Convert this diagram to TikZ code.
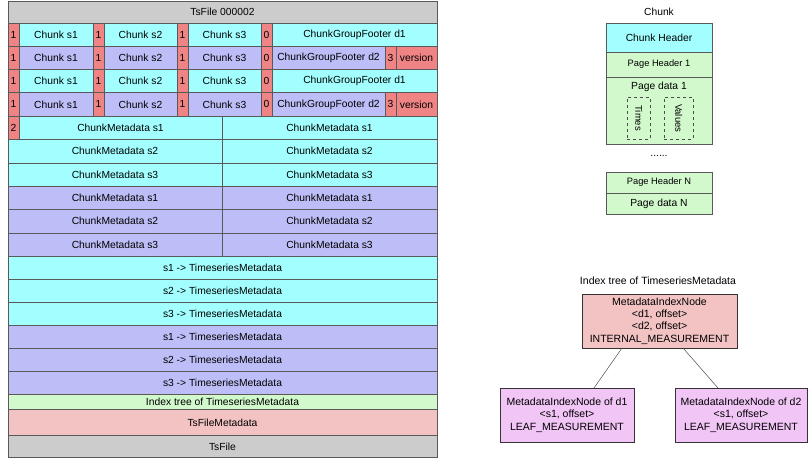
\documentclass[tikz,border=0pt]{standalone}
\usepackage{fontspec}
\setmainfont{Liberation Sans}
\begin{document}
\begin{tikzpicture}[x=1pt,y=-1pt,
  cell/.style={draw=black!65,line width=0.6pt,inner sep=0pt,outer sep=0pt,anchor=north west,font=\fontsize{10.3}{12}\selectfont,align=center},
  plain/.style={inner sep=0pt,font=\fontsize{10.3}{12}\selectfont,align=center},
  tnode/.style={draw=black!80,line width=0.6pt,inner sep=0pt,outer sep=0pt,anchor=north west,font=\fontsize{10.5}{12.3}\selectfont,align=center},
  dbox/.style={draw=black!70,dashed,line width=0.5pt,inner sep=0pt,anchor=north west},
  link/.style={draw=black!70,line width=0.5pt}]
\definecolor{cyanc}{HTML}{A3FFFF}
\definecolor{purc}{HTML}{BDBDF7}
\definecolor{redc}{HTML}{F08484}
\definecolor{grayc}{HTML}{CCCCCC}
\definecolor{greenc}{HTML}{D2F9CC}
\definecolor{pinkc}{HTML}{F3C3C3}
\definecolor{violc}{HTML}{F1C5F5}
\useasboundingbox[fill=white] (0,0) rectangle (809,463);
\newcommand{\mycell}[7]{\node[cell,fill=#2,minimum width=#5pt,minimum height=#6pt] (#1) at (#3,#4) {#7};}
% title
\mycell{title}{grayc}{8}{1}{429}{22}{TsFile 000002}
% chunk rows
\foreach \r/\y/\c/\d in {1/23/cyanc/1, 2/46.25/purc/2, 3/69.5/cyanc/1, 4/92.75/purc/2}{
  \mycell{ra\r}{redc}{8}{\y}{11}{23.25}{1}
  \mycell{ca\r}{\c}{19}{\y}{74}{23.25}{Chunk s1}
  \mycell{rb\r}{redc}{93}{\y}{11}{23.25}{1}
  \mycell{cb\r}{\c}{104}{\y}{73}{23.25}{Chunk s2}
  \mycell{rc\r}{redc}{177}{\y}{11}{23.25}{1}
  \mycell{cc\r}{\c}{188}{\y}{73}{23.25}{Chunk s3}
  \mycell{rd\r}{redc}{261}{\y}{11}{23.25}{0}
  \ifnum\d=1
    \mycell{f\r}{\c}{272}{\y}{165}{23.25}{ChunkGroupFooter d1}
  \else
    \mycell{f\r}{\c}{272}{\y}{113}{23.25}{ChunkGroupFooter d2}
    \mycell{re\r}{redc}{385}{\y}{11}{23.25}{3}
    \mycell{v\r}{redc}{396}{\y}{41}{23.25}{version}
  \fi
}
% chunk metadata
\mycell{two}{redc}{8}{116}{11}{23.4}{2}
\mycell{ml1}{cyanc}{19}{116}{203}{23.4}{ChunkMetadata s1}
\mycell{mr1}{cyanc}{222}{116}{215}{23.4}{ChunkMetadata s1}
\mycell{ml2}{cyanc}{8}{139.4}{214}{23.4}{ChunkMetadata s2}
\mycell{mr2}{cyanc}{222}{139.4}{215}{23.4}{ChunkMetadata s2}
\mycell{ml3}{cyanc}{8}{162.8}{214}{23.4}{ChunkMetadata s3}
\mycell{mr3}{cyanc}{222}{162.8}{215}{23.4}{ChunkMetadata s3}
\mycell{ml4}{purc}{8}{186.2}{214}{23.4}{ChunkMetadata s1}
\mycell{mr4}{purc}{222}{186.2}{215}{23.4}{ChunkMetadata s1}
\mycell{ml5}{purc}{8}{209.6}{214}{23.4}{ChunkMetadata s2}
\mycell{mr5}{purc}{222}{209.6}{215}{23.4}{ChunkMetadata s2}
\mycell{ml6}{purc}{8}{233}{214}{23.4}{ChunkMetadata s3}
\mycell{mr6}{purc}{222}{233}{215}{23.4}{ChunkMetadata s3}
% timeseries metadata
\mycell{t1}{cyanc}{8}{256.4}{429}{23}{s1 -> TimeseriesMetadata}
\mycell{t2}{cyanc}{8}{279.4}{429}{23}{s2 -> TimeseriesMetadata}
\mycell{t3}{cyanc}{8}{302.4}{429}{23}{s3 -> TimeseriesMetadata}
\mycell{t4}{purc}{8}{325.4}{429}{23}{s1 -> TimeseriesMetadata}
\mycell{t5}{purc}{8}{348.4}{429}{23}{s2 -> TimeseriesMetadata}
\mycell{t6}{purc}{8}{371.4}{429}{23}{s3 -> TimeseriesMetadata}
\mycell{idx}{greenc}{8}{394.4}{429}{15}{Index tree of TimeseriesMetadata}
\mycell{tsm}{pinkc}{8}{409.4}{429}{26}{TsFileMetadata}
\mycell{tsf}{grayc}{8}{435.4}{429}{22}{TsFile}
% chunk structure
\node[plain] (chunklbl) at (659,12) {Chunk};
\mycell{chh}{cyanc}{606}{23}{106}{29}{Chunk Header}
\node[cell,fill=greenc,minimum width=106pt,minimum height=25pt,font=\fontsize{9.3}{11}\selectfont] (ph1) at (606,52) {Page Header 1};
\node[cell,fill=greenc,minimum width=106pt,minimum height=67pt] (pd1) at (606,77) {};
\node[plain] (pd1t) at (659,87) {Page data 1};
\node[dbox,minimum width=23pt,minimum height=42pt] (times) at (627,97) {};
\node[plain,rotate=-90,font=\fontsize{9.5}{11}\selectfont] (timest) at (times.center) {Times};
\node[dbox,minimum width=29pt,minimum height=42pt] (values) at (664,97) {};
\node[plain,rotate=-90,font=\fontsize{9.5}{11}\selectfont] (valuest) at (values.center) {Values};
\node[plain] (dots) at (659,156) {......};
\node[cell,fill=greenc,minimum width=106pt,minimum height=21pt,font=\fontsize{9.3}{11}\selectfont] (phn) at (606,172) {Page Header N};
\mycell{pdn}{greenc}{606}{193}{106}{21}{Page data N}
% index tree
\node[plain,font=\fontsize{10.5}{12}\selectfont] (treelbl) at (658,281) {Index tree of TimeseriesMetadata};
\node[tnode,fill=pinkc,minimum width=155pt,minimum height=54pt] (root) at (582,294) {MetadataIndexNode\\<d1, offset>\\<d2, offset>\\INTERNAL\_MEASUREMENT};
\node[tnode,fill=violc,minimum width=134pt,minimum height=54pt] (leaf1) at (500,388) {MetadataIndexNode of d1\\<s1, offset>\\LEAF\_MEASUREMENT};
\node[tnode,fill=violc,minimum width=132pt,minimum height=54pt] (leaf2) at (675,388) {MetadataIndexNode of d2\\<s1, offset>\\LEAF\_MEASUREMENT};
\draw[link] (root.south -| 622,0) -- (leaf1.north -| 594,0);
\draw[link] (root.south -| 683,0) -- (leaf2.north -| 718,0);
\end{tikzpicture}
\end{document}
